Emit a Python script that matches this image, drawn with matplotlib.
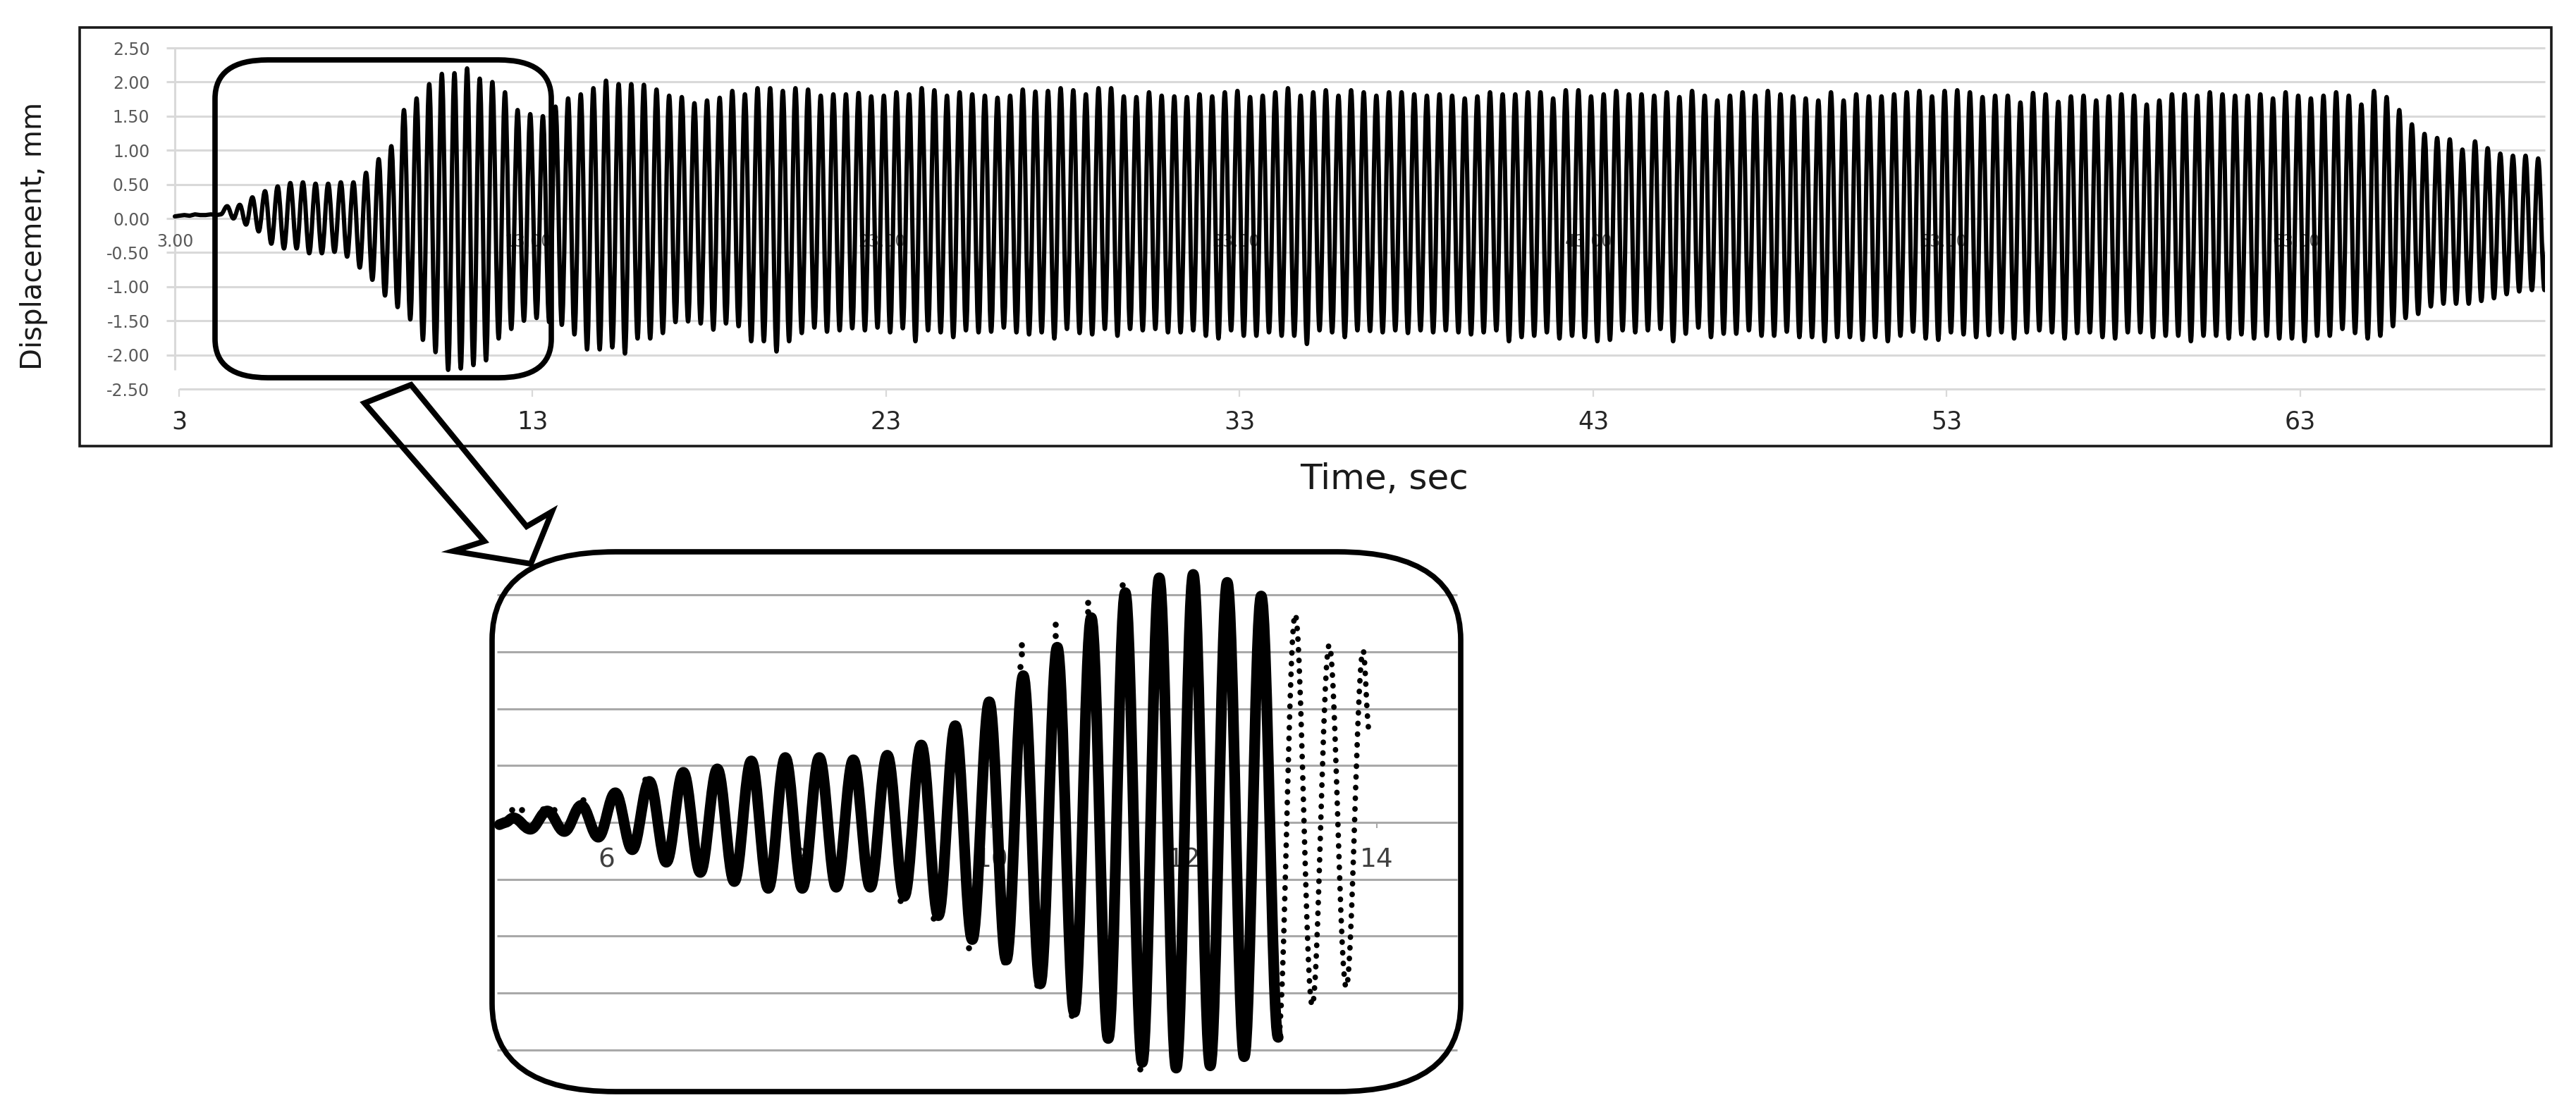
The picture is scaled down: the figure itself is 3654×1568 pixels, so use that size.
import numpy as np
import matplotlib
matplotlib.use('Agg')
import matplotlib.pyplot as plt
from matplotlib.path import Path
from matplotlib.patches import PathPatch, FancyBboxPatch, Polygon, Rectangle

W, H = 3655, 1568

# ---------------- main record (displacement, mm) ----------------
# flat part before the shaking starts
lead_t = [2.88, 3.0, 3.15, 3.3, 3.45, 3.6, 3.75, 3.9, 4.05, 4.18]
lead_v = [0.03, 0.04, 0.05, 0.04, 0.06, 0.05, 0.05, 0.06, 0.05, 0.06]

# first peak time and cycle period (s)
t_first = 4.36
period = 0.3572

# peak of every cycle
main_peaks = [
    0.18, 0.20, 0.31, 0.40, 0.47, 0.52, 0.53, 0.51, 0.51, 0.53,
    0.53, 0.67, 0.87, 1.06, 1.59, 1.76, 1.97, 2.12, 2.13, 2.20,
    2.05, 2.00,
    1.85, 1.59, 1.53, 1.50, 1.64, 1.76, 1.82, 1.91, 2.02, 1.97,
    1.97, 1.96, 1.89, 1.80, 1.78, 1.69, 1.73, 1.77, 1.87, 1.82,
    1.91, 1.91, 1.87, 1.91, 1.89, 1.80, 1.82, 1.82, 1.84, 1.79,
    1.80, 1.85, 1.82, 1.91, 1.88, 1.80, 1.85, 1.82, 1.80, 1.77,
    1.80, 1.89, 1.86, 1.87,
    1.91, 1.88, 1.82, 1.91, 1.91, 1.79, 1.78, 1.85, 1.80, 1.79,
    1.78, 1.82, 1.79, 1.85, 1.87, 1.78, 1.80, 1.85, 1.91, 1.80,
    1.85, 1.88, 1.80, 1.88, 1.85, 1.80, 1.85, 1.85, 1.82, 1.80,
    1.82, 1.80, 1.76, 1.79, 1.85, 1.82, 1.82, 1.85, 1.85, 1.76,
    1.88, 1.88, 1.79, 1.82, 1.87,
    1.82, 1.82, 1.80, 1.85, 1.78, 1.87, 1.80, 1.73, 1.80, 1.85,
    1.80, 1.87, 1.82, 1.79, 1.76, 1.73, 1.85, 1.73, 1.82, 1.79,
    1.79, 1.82, 1.85, 1.87, 1.79, 1.87, 1.88, 1.85, 1.78, 1.80,
    1.80, 1.70, 1.84, 1.82, 1.71, 1.79, 1.80, 1.73, 1.79, 1.82,
    1.80, 1.67, 1.73, 1.82, 1.82,
    1.80, 1.85, 1.82, 1.80, 1.80, 1.82, 1.76, 1.85, 1.80, 1.76,
    1.80, 1.85, 1.80, 1.67, 1.87, 1.78, 1.59, 1.38, 1.24, 1.18,
    1.16, 1.01, 1.13, 1.03, 0.95, 0.92, 0.92, 0.88, 0.86, 0.86,
]
# trough following each peak
main_troughs = [
    -0.00, -0.09, -0.19, -0.37, -0.44, -0.44, -0.51, -0.51, -0.49, -0.56,
    -0.72, -0.90, -1.13, -1.30, -1.48, -1.78, -1.96, -2.22, -2.20, -2.15,
    -2.08, -1.76,
    -1.62, -1.50, -1.46, -1.52, -1.56, -1.70, -1.92, -1.92, -1.89, -1.98,
    -1.76, -1.76, -1.68, -1.52, -1.51, -1.54, -1.63, -1.54, -1.58, -1.80,
    -1.80, -1.95, -1.80, -1.68, -1.60, -1.66, -1.64, -1.61, -1.64, -1.60,
    -1.67, -1.61, -1.80, -1.64, -1.67, -1.74, -1.64, -1.67, -1.66, -1.60,
    -1.67, -1.70, -1.67, -1.76,
    -1.62, -1.68, -1.70, -1.62, -1.72, -1.62, -1.64, -1.62, -1.67, -1.67,
    -1.64, -1.72, -1.76, -1.64, -1.72, -1.72, -1.67, -1.72, -1.72, -1.84,
    -1.64, -1.67, -1.74, -1.64, -1.65, -1.67, -1.64, -1.68, -1.64, -1.67,
    -1.64, -1.67, -1.70, -1.67, -1.64, -1.80, -1.74, -1.72, -1.67, -1.76,
    -1.72, -1.74, -1.80, -1.78, -1.64,
    -1.67, -1.64, -1.62, -1.80, -1.69, -1.60, -1.74, -1.69, -1.69, -1.64,
    -1.72, -1.72, -1.66, -1.74, -1.74, -1.80, -1.74, -1.74, -1.78, -1.74,
    -1.80, -1.72, -1.66, -1.76, -1.78, -1.67, -1.70, -1.74, -1.71, -1.67,
    -1.76, -1.67, -1.64, -1.67, -1.76, -1.68, -1.67, -1.74, -1.76, -1.67,
    -1.67, -1.74, -1.72, -1.72, -1.80,
    -1.72, -1.72, -1.76, -1.70, -1.76, -1.72, -1.76, -1.76, -1.80, -1.72,
    -1.72, -1.62, -1.68, -1.76, -1.72, -1.58, -1.46, -1.40, -1.29, -1.25,
    -1.25, -1.25, -1.21, -1.17, -1.11, -1.07, -1.05, -1.05, -1.01, -1.00,
]

x_ticks = [3, 13, 23, 33, 43, 53, 63]
x_tick_labels = ['3', '13', '23', '33', '43', '53', '63']
y_ticks = [-2.5, -2.0, -1.5, -1.0, -0.5, 0.0, 0.5, 1.0, 1.5, 2.0, 2.5]
y_tick_labels = ['-2.50', '-2.00', '-1.50', '-1.00', '-0.50', '0.00',
                 '0.50', '1.00', '1.50', '2.00', '2.50']
cross_labels = ['3.00', '13.00', '23.00', '33.00', '43.00', '53.00', '63.00']

# ---------------- zoomed detail ----------------
inset_lead_t = [4.89, 4.95]
inset_lead_v = [-0.02, 0.00]
inset_first = 5.035
inset_period = 0.353
inset_peaks = [0.04, 0.10, 0.15, 0.26, 0.36, 0.44, 0.47, 0.54, 0.57, 0.57,
               0.55, 0.59, 0.68, 0.85, 1.06, 1.29, 1.54, 1.80, 2.02, 2.15,
               2.18, 2.11, 1.99,
               1.83, 1.56, 1.51]
inset_troughs = [-0.06, -0.08, -0.13, -0.24, -0.35, -0.44, -0.52, -0.58, -0.58, -0.57,
                 -0.57, -0.65, -0.82, -1.03, -1.21, -1.42, -1.67, -1.90, -2.11, -2.16,
                 -2.14, -2.06, -1.89,
                 -1.61, -1.45]
inset_solid_cycles = 23
inset_end = (13.92, 0.82)
# loose sample points off the main trace
stray_t = [5.02, 5.12, 5.34, 5.46, 5.76, 6.09, 6.40, 9.05, 9.40, 9.76,
           10.13, 10.31, 10.31, 10.30, 10.47, 10.66, 10.66, 10.83, 11.00, 11.00,
           11.36, 11.545]
stray_v = [0.11, 0.11, 0.12, 0.11, 0.20, 0.27, 0.38, -0.69, -0.84, -1.10,
           -1.23, 1.56, 1.48, 1.37, -1.43, 1.74, 1.64, -1.70, 1.93, 1.85,
           2.09, -2.17]
inset_ticks = [6, 8, 10, 12, 14]
inset_tick_labels = ['6', '8', '10', '12', '14']
inset_grid = [-2.0, -1.5, -1.0, -0.5, 0.0, 0.5, 1.0, 1.5, 2.0]


def wave_path(pts_line, pts_curve, k=0.3642):
    verts = [pts_line[0]]
    codes = [Path.MOVETO]
    for p in pts_line[1:]:
        verts.append(p)
        codes.append(Path.LINETO)
    pt, pv = verts[-1]
    for t, v in pts_curve:
        d = t - pt
        verts += [(pt + k * d, pv), (t - k * d, v), (t, v)]
        codes += [Path.CURVE4] * 3
        pt, pv = t, v
    return Path(verts, codes)


plt.rcParams['font.family'] = ['DejaVu Sans']
fig = plt.figure(figsize=(W / 100, H / 100), dpi=100, facecolor='white')


def fig_rect(x0, y0, x1, y1):
    return [x0 / W, 1 - y1 / H, (x1 - x0) / W, (y1 - y0) / H]


# ---------- main chart ----------
ax = fig.add_axes(fig_rect(236, 68, 3610, 552))
ax.set_xlim(2.641, 69.92)
ax.set_ylim(-2.5, 2.5)
for s in ax.spines.values():
    s.set_visible(False)
ax.set_facecolor('none')

grid_c = '#d9d9d9'
ax.hlines(y_ticks[1:], 2.641, 69.92, color=grid_c, lw=2.2, zorder=0, clip_on=False)
ax.hlines(-2.5, 3.0, 69.92, color=grid_c, lw=2.2, zorder=0, clip_on=False)
ax.vlines(2.88, -2.22, 2.5, color=grid_c, lw=2.2, zorder=0, clip_on=False)

ax.set_xticks(x_ticks)
ax.set_xticklabels(x_tick_labels)
ax.tick_params(axis='x', length=8, width=1.6, color=grid_c, labelsize=25,
               labelcolor='#262626', pad=13)
ax.set_yticks(y_ticks)
ax.set_yticklabels(y_tick_labels)
ax.tick_params(axis='y', length=0, pad=17, labelsize=17, labelcolor='#595959')

for t, lab in zip(x_ticks, cross_labels):
    ax.text(t - 0.12, -0.34, lab, ha='center', va='center', fontsize=17,
            color='#595959', zorder=1)

n = min(len(main_peaks), len(main_troughs))
main_ext = []
for i in range(n):
    main_ext.append((t_first + i * period, main_peaks[i]))
    main_ext.append((t_first + (i + 0.5) * period, main_troughs[i]))
main_path = wave_path(list(zip(lead_t, lead_v)), main_ext)
ax.add_patch(PathPatch(main_path, fill=False, ec='black', lw=4.4,
                       capstyle='round', joinstyle='round', zorder=3))

fig.text(1964 / W, 1 - 680 / H, 'Time, sec', ha='center', va='center',
         fontsize=36, color='#1a1a1a')
fig.text(48 / W, 1 - 335 / H, 'Displacement, mm', ha='center', va='center',
         rotation=90, fontsize=29, color='#1a1a1a')

# ---------- inset ----------
ax2 = fig.add_axes(fig_rect(698, 783, 2072, 1549))
ax2.set_xlim(4.814, 14.873)
ax2.set_ylim(-2.367, 2.379)
ax2.axis('off')
ax2.hlines(inset_grid, 4.865, 14.84, color='#a9a9a9', lw=2.2, zorder=0)
ax2.vlines(inset_ticks, -0.05, 0.0, color='#a9a9a9', lw=1.5, zorder=0)
for t, lab in zip(inset_ticks, inset_tick_labels):
    ax2.text(t, -0.33, lab, ha='center', va='center', fontsize=27,
             color='#404040', zorder=1)

ins_ext = []
for i in range(len(inset_peaks)):
    ins_ext.append((inset_first + i * inset_period, inset_peaks[i]))
    if i < len(inset_troughs):
        ins_ext.append((inset_first + (i + 0.5) * inset_period, inset_troughs[i]))
cut = 2 * inset_solid_cycles
solid_path = wave_path(list(zip(inset_lead_t, inset_lead_v)), ins_ext[:cut])
ax2.add_patch(PathPatch(solid_path, fill=False, ec='black', lw=11,
                        capstyle='round', joinstyle='round', zorder=3))
dot_path = wave_path([ins_ext[cut - 1]], ins_ext[cut:] + [inset_end])
ax2.add_patch(PathPatch(dot_path, fill=False, ec='black', lw=5.6,
                        linestyle=(0, (0.05, 1.9)), capstyle='round', zorder=3))
ax2.scatter(stray_t, stray_v, s=38, color='black', zorder=3, linewidths=0)

# ---------- frames, callout boxes and arrow ----------
ov = fig.add_axes([0, 0, 1, 1], zorder=10)
ov.set_xlim(0, W)
ov.set_ylim(H, 0)
ov.axis('off')
ov.patch.set_visible(False)

ov.add_patch(Rectangle((113, 39), 3506, 594, fill=False, lw=2.6, ec='#1a1a1a'))
ov.add_patch(FancyBboxPatch((305, 85), 477, 451,
                            boxstyle='round,pad=0,rounding_size=75',
                            mutation_aspect=55 / 75, fill=False, lw=5.5, ec='black'))
ov.add_patch(FancyBboxPatch((698, 783), 1374, 766,
                            boxstyle='round,pad=0,rounding_size=175',
                            mutation_aspect=125 / 175, fill=False, lw=5.5, ec='black'))
arrow_pts = [(517, 572), (583, 546), (747, 747), (783, 726),
             (753, 800), (643, 782), (687, 768)]
ov.add_patch(Polygon(arrow_pts, closed=True, fill=False, lw=5.8, ec='black',
                     joinstyle='miter'))

fig.savefig('out.png', dpi=100, facecolor='white')
